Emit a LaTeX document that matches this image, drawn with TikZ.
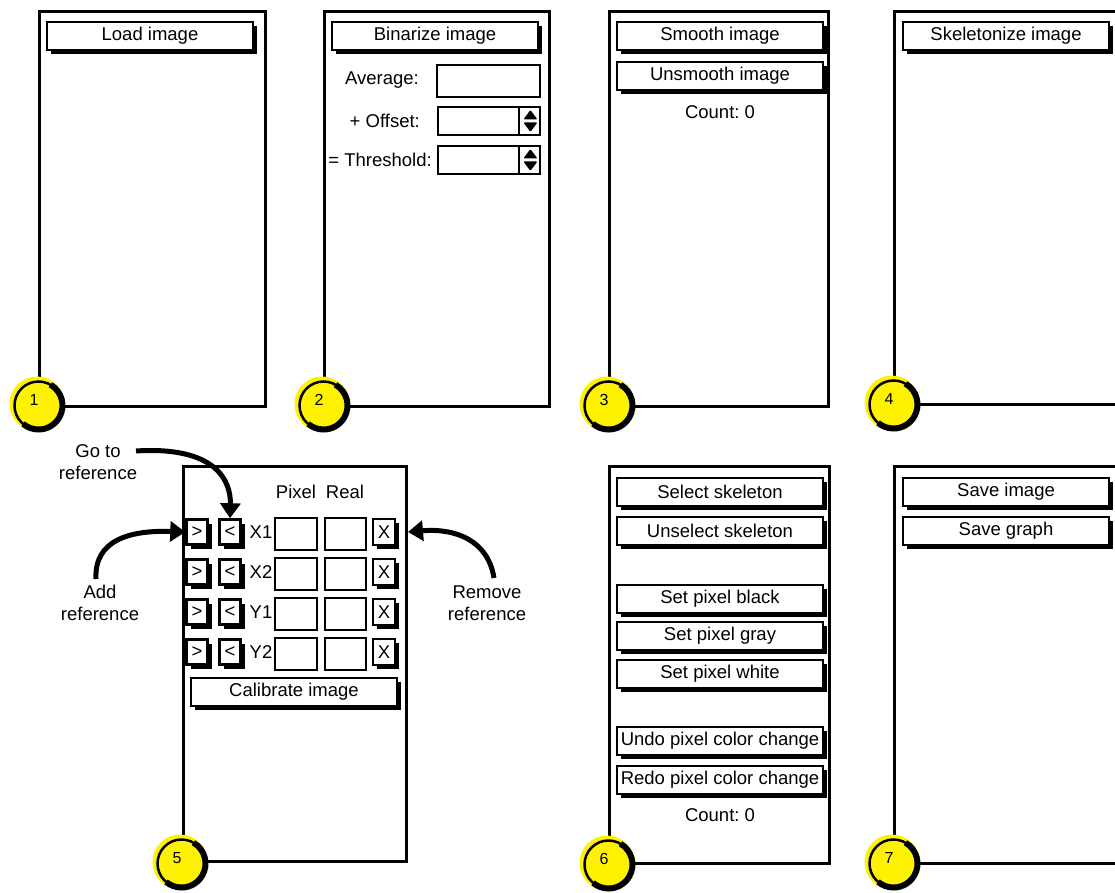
\documentclass[tikz,border=0pt]{standalone}
\usepackage{fontspec}
\setmainfont{Liberation Sans}
\usetikzlibrary{shadows,arrows.meta}

\newcommand\uifont{\fontsize{18.5}{22}\selectfont\frenchspacing}
\newcommand\numfont{\fontsize{16}{18}\selectfont}

\tikzset{
  frame/.style={draw, line width=3pt, fill=white, anchor=north west, inner sep=0pt},
  btn/.style={draw, line width=2.5pt, fill=white, minimum width=206pt, minimum height=28pt,
    inner sep=0pt, font=\uifont,
    drop shadow={shadow xshift=4pt, shadow yshift=-4pt, fill=black, opacity=1}},
  sbtn/.style={btn, minimum width=21pt, minimum height=25pt},
  field/.style={draw, line width=2.8pt, fill=white, inner sep=0pt},
  lbl/.style={font=\uifont, inner sep=0pt},
  note/.style={font=\uifont, inner sep=0pt, align=center},
  badge/.style={circle, fill=yellow, minimum size=55pt, inner sep=0pt},
  ring/.style={line width=2.5pt},
  ringshade/.style={line width=6pt},
  num/.style={font=\numfont, inner sep=0pt},
  conn/.style={line width=5pt, -{Triangle[width=20pt,length=15pt]}},
  spin/.style={fill=black, rounded corners=1pt},
  divider/.style={line width=2pt},
}

% round numbered marker at a panel corner
\newcommand\marker[4]{%
  \node[badge] (#1) at (#2,#3) {};
  \draw[ring] ([shift={(1.5,1.5)}]#1.center) circle[radius=24];
  \draw[ringshade] ([shift={(1.5,1.5)}]#1.center) ++(-60:24) arc[start angle=-60, end angle=130, radius=24];
  \node[num] (#1n) at ([shift={(-3,-4)}]#1.center) {#4};
}

% up/down arrows of a spin box
\newcommand\spinarrows[1]{%
  \draw[divider] ([xshift=-22pt]#1.north east) -- ([xshift=-22pt]#1.south east);
  \fill[spin] ([shift={(-18,-1.5)}]#1.east) -- ([shift={(-4,-1.5)}]#1.east) -- ([shift={(-11,-11)}]#1.east) -- cycle;
  \fill[spin] ([shift={(-18,1.5)}]#1.east) -- ([shift={(-4,1.5)}]#1.east) -- ([shift={(-11,11)}]#1.east) -- cycle;
}

\begin{document}
\begin{tikzpicture}[x=1pt, y=-1pt]
\useasboundingbox (0,0) rectangle (1115,893);

% ---------- panel 1 : load ----------
\node[frame, minimum width=226pt, minimum height=395pt] (p1) at (38,10) {};
\node[btn] (load) at (150,36) {Load image};

% ---------- panel 2 : binarize ----------
\node[frame, minimum width=225pt, minimum height=395pt] (p2) at (323,10) {};
\node[btn] (bin) at (435,36) {Binarize image};
\node[lbl, anchor=east] (avgl) at (419,80) {Average:};
\node[field, minimum width=103pt, minimum height=32pt] (avg) at (488.5,81) {};
\node[lbl, anchor=east] (offl) at (420,121) {+ Offset:};
\node[field, minimum width=102pt, minimum height=28pt] (off) at (489,121) {};
\spinarrows{off}
\node[lbl, anchor=east] (thrl) at (432,160) {= Threshold:};
\node[field, minimum width=102pt, minimum height=28pt] (thr) at (489,160) {};
\spinarrows{thr}

% ---------- panel 3 : smooth ----------
\node[frame, minimum width=219pt, minimum height=395pt] (p3) at (608,10) {};
\node[btn] (smooth) at (720,36) {Smooth image};
\node[btn] (unsmooth) at (720,76) {Unsmooth image};
\node[lbl] (cnt3) at (720,112) {Count: 0};

% ---------- panel 4 : skeletonize ----------
\node[frame, minimum width=240pt, minimum height=393pt] (p4) at (893,10) {};
\node[btn] (skel) at (1006,36) {Skeletonize image};

% ---------- panel 5 : calibration ----------
\node[frame, minimum width=223pt, minimum height=395pt] (p5) at (182,465) {};
\node[lbl] (pixh) at (296,492) {Pixel};
\node[lbl] (realh) at (345,492) {Real};
\foreach \lab [count=\i] in {X1,X2,Y1,Y2} {
  \pgfmathsetmacro\ry{492+40*\i}
  \node[sbtn] (gt\i) at (197,\ry) {>};
  \node[sbtn] (lt\i) at (230,\ry) {<};
  \node[lbl] (ax\i) at (261,\ry) {\lab};
  \node[field, minimum width=42pt, minimum height=32pt] (px\i) at (296,\ry+2) {};
  \node[field, minimum width=41pt, minimum height=32pt] (rl\i) at (345.5,\ry+2) {};
  \node[sbtn, minimum width=22pt, minimum height=26pt] (rm\i) at (384,\ry) {X};
}
\node[btn] (calib) at (294,692) {Calibrate image};

% annotations of panel 5
\node[note] (gotol) at (98,462) {Go to\\reference};
\coordinate (gotos) at (136,451);
\draw[conn] (gotos) .. controls (215,446) and (231,480) .. (lt1.north);

\node[note] (addl) at (100,603) {Add\\reference};
\coordinate (adds) at (96,579);
\draw[conn] (adds) .. controls (94,540) and (130,530) .. (gt1.west);

\node[note] (reml) at (487,603) {Remove\\reference};
\coordinate (rems) at (494,578);
\draw[conn] (rems) .. controls (488,540) and (455,528) .. (p5.east |- rm1.east);

% ---------- panel 6 : edit pixels ----------
\node[frame, minimum width=220pt, minimum height=397pt] (p6) at (608,465) {};
\node[btn] (sel) at (720,492) {Select skeleton};
\node[btn] (unsel) at (720,531) {Unselect skeleton};
\node[btn] (black) at (720,599) {Set pixel black};
\node[btn] (gray) at (720,636) {Set pixel gray};
\node[btn] (white) at (720,674) {Set pixel white};
\node[btn] (undo) at (720,741) {Undo pixel color change};
\node[btn] (redo) at (720,780) {Redo pixel color change};
\node[lbl] (cnt6) at (720,815) {Count: 0};

% ---------- panel 7 : save ----------
\node[frame, minimum width=240pt, minimum height=397pt] (p7) at (893,465) {};
\node[btn] (saveimg) at (1006,492) {Save image};
\node[btn] (savegr) at (1006,531) {Save graph};

% ---------- step markers ----------
\marker{m1}{37}{404}{1}
\marker{m2}{322}{404}{2}
\marker{m3}{607}{404}{3}
\marker{m4}{892}{403}{4}
\marker{m5}{180}{862}{5}
\marker{m6}{607}{863}{6}
\marker{m7}{892}{862}{7}
\end{tikzpicture}
\end{document}
